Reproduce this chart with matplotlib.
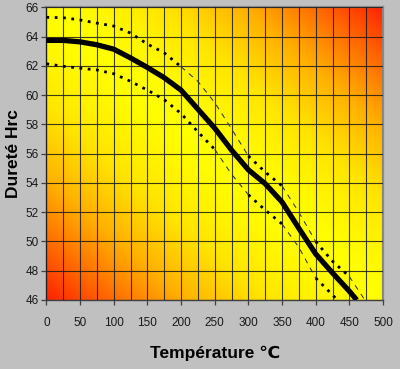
import numpy as np
import matplotlib
matplotlib.use("Agg")
import matplotlib.pyplot as plt
from matplotlib.colors import LinearSegmentedColormap

# ---- data ----
temp_main = [0, 25, 50, 75, 100, 125, 150, 175, 200, 225, 250, 275, 300, 325, 350, 375, 400, 425, 450, 461]
hrc_main = [63.75, 63.75, 63.65, 63.45, 63.15, 62.55, 61.9, 61.2, 60.35, 59.05, 57.75, 56.25, 54.9, 53.95, 52.7, 50.9, 49.15, 47.85, 46.6, 46.0]

temp_upper = [0, 25, 50, 75, 100, 125, 150, 175, 200, 225, 250, 275, 300, 325, 350, 375, 400, 425, 450, 473]
hrc_upper = [65.33, 65.3, 65.15, 64.93, 64.73, 64.25, 63.5, 62.9, 61.95, 60.95, 59.5, 57.7, 55.85, 54.75, 53.8, 52.0, 50.0, 48.65, 47.6, 46.0]

temp_lower = [0, 25, 50, 75, 100, 125, 150, 175, 200, 225, 250, 275, 300, 325, 350, 375, 400, 425, 432]
hrc_lower = [62.15, 61.98, 61.85, 61.73, 61.47, 60.95, 60.35, 59.7, 58.75, 57.5, 56.3, 54.6, 53.2, 52.15, 51.2, 49.6, 47.5, 46.35, 46.0]

x_ticks = [0, 50, 100, 150, 200, 250, 300, 350, 400, 450, 500]
y_ticks = [46, 48, 50, 52, 54, 56, 58, 60, 62, 64, 66]

# ranges (in °C) where the band lines render as heavy dots
upper_dot_spans = [(0, 212), (290, 352), (395, 452)]
lower_dot_spans = [(0, 262), (290, 352), (395, 440)]

plt.rcParams['font.family'] = ['Liberation Sans', 'DejaVu Sans']

fig = plt.figure(figsize=(4.0, 3.69), dpi=100)
fig.patch.set_facecolor('#c0c0c0')
ax = fig.add_axes([0.116, 0.187, 0.8415, 0.7927])

# gradient background
nx, ny = 300, 300
u = np.linspace(0, 1, nx)[None, :]
v = np.linspace(0, 1, ny)[:, None]
c = np.abs(u - v) ** 1.3
cmap = LinearSegmentedColormap.from_list('yr', ['#ffff00', '#ffe400', '#ffb000', '#ff6a00', '#ff2200'])
ax.imshow(c, cmap=cmap, extent=[0, 500, 46, 66], origin='upper', aspect='auto', zorder=0, vmin=0, vmax=1)

ax.set_xlim(0, 500)
ax.set_ylim(46, 66)
ax.set_xticks(x_ticks)
ax.set_xticks(np.arange(0, 501, 25), minor=True)
ax.set_yticks(y_ticks)
ax.grid(which='both', axis='x', color='#1a1a1a', lw=0.8, alpha=0.85, zorder=1)
ax.grid(which='major', axis='y', color='#1a1a1a', lw=0.8, alpha=0.85, zorder=1)
ax.set_axisbelow(False)
ax.tick_params(which='minor', length=0)
ax.tick_params(axis='x', which='major', length=3.5, width=0.9, color='#404040', pad=9, labelsize=8.5, labelcolor='#1a1a1a')
ax.tick_params(axis='y', which='major', length=3.5, width=0.9, color='#404040', pad=2, labelsize=8.5, labelcolor='#1a1a1a')

for s in ['left', 'bottom']:
    ax.spines[s].set_color('#404040')
    ax.spines[s].set_linewidth(1.0)
for s in ['top', 'right']:
    ax.spines[s].set_color('#8a8a8a')
    ax.spines[s].set_linewidth(1.6)


def runs(t, h, spans, heavy):
    t = np.asarray(t, float)
    h = np.asarray(h, float)
    mid = (t[:-1] + t[1:]) / 2
    flags = [any(lo <= m <= hi for lo, hi in spans) for m in mid]
    out = []
    cur = None
    for i, f in enumerate(flags):
        if f == heavy:
            if cur is None:
                cur = [i, i + 1]
            else:
                cur[1] = i + 1
        else:
            if cur is not None:
                out.append(cur)
                cur = None
    if cur is not None:
        out.append(cur)
    return [(t[a:b + 1], h[a:b + 1]) for a, b in out]


for tt, hh, spans in [(temp_upper, hrc_upper, upper_dot_spans), (temp_lower, hrc_lower, lower_dot_spans)]:
    for xs, ys in runs(tt, hh, spans, True):
        ax.plot(xs, ys, color='black', lw=2.0, linestyle=(0, (1, 2.0)), dash_capstyle='butt', zorder=3)
    for xs, ys in runs(tt, hh, spans, False):
        ax.plot(xs, ys, color='#333333', lw=0.75, linestyle=(0, (5, 5)), zorder=3)

ax.plot(temp_main, hrc_main, color='black', lw=3.8, solid_joinstyle='round', solid_capstyle='butt', zorder=4)

ax.set_xlabel('Température ℃', fontsize=12.5, fontweight='bold', labelpad=12, color='black')
ax.set_ylabel('Dureté Hrc', fontsize=12.5, fontweight='bold', labelpad=3, color='black')

fig.savefig('out.png', dpi=100, facecolor=fig.get_facecolor())
